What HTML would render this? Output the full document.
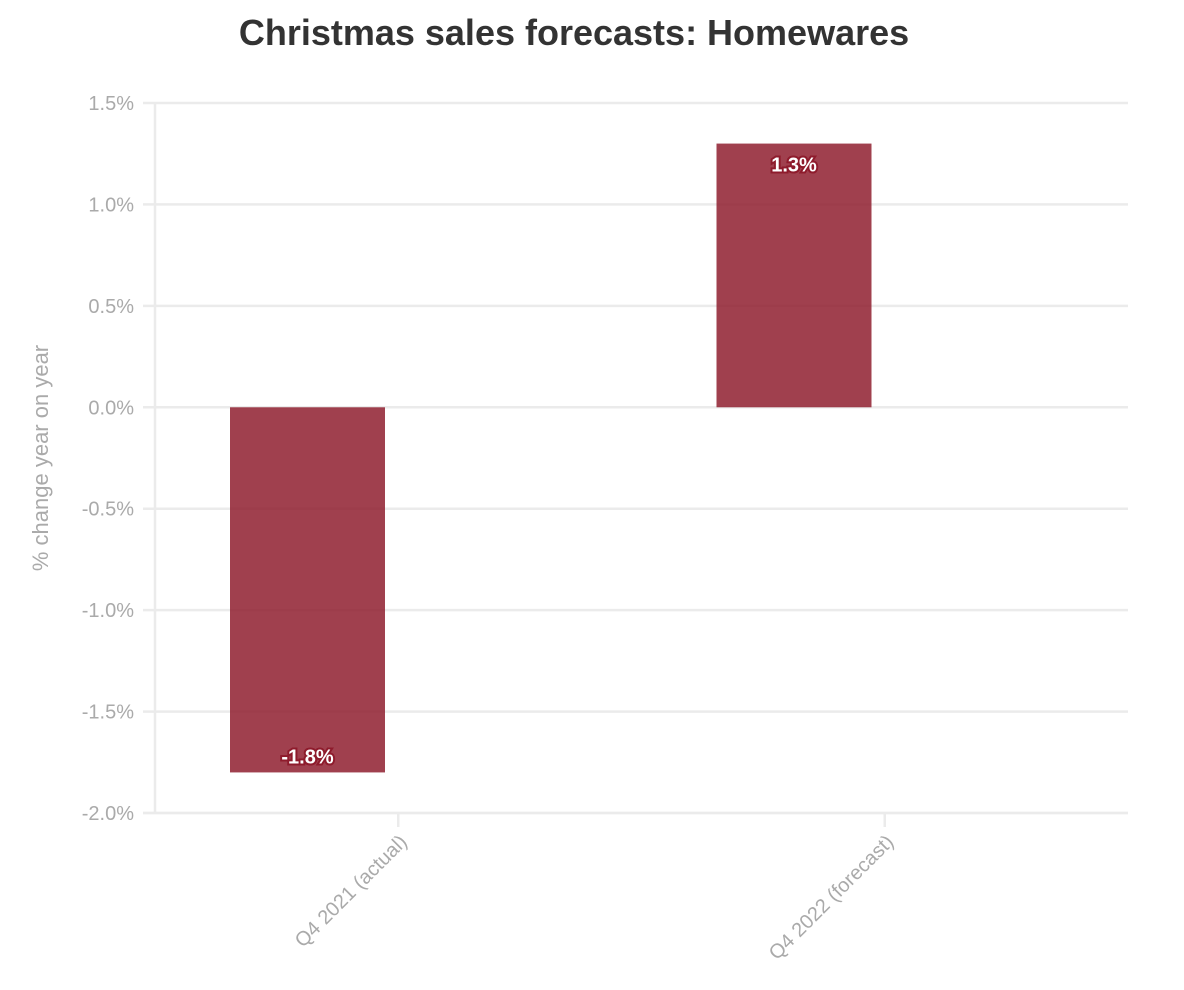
<!DOCTYPE html>
<html><head><meta charset="utf-8"><style>
html,body{margin:0;padding:0;background:#fff;}
svg{display:block;font-family:"Liberation Sans",sans-serif;}
</style></head><body>
<svg id="chart" width="1184" height="990" viewBox="0 0 1184 990">
<text x="574" y="45" text-anchor="middle" font-size="36" font-weight="bold" fill="#333">Christmas sales forecasts: Homewares</text>
<g id="grid"></g><g id="bars"></g><g id="xaxis"></g>
<text transform="translate(48,458) rotate(-90)" text-anchor="middle" font-size="22" fill="#aaa">% change year on year</text>
</svg>
<script>
const categories = ["Q4 2021 (actual)", "Q4 2022 (forecast)"];
const values = [-1.8, 1.3];
const valueLabels = ["-1.8%", "1.3%"];
const yTicks = [1.5, 1.0, 0.5, 0.0, -0.5, -1.0, -1.5, -2.0];
const tickLabels = ["1.5%", "1.0%", "0.5%", "0.0%", "-0.5%", "-1.0%", "-1.5%", "-2.0%"];

const NS = "http://www.w3.org/2000/svg";
const x0 = 155, x1 = 1128, yTop = 103, yBot = 813, vMax = 1.5, vMin = -2.0;
function y(v){ return yTop + (vMax - v) / (vMax - vMin) * (yBot - yTop); }
const band = (x1 - x0) / categories.length;
function xBand(i){ return x0 + i * band; }
function mk(tag, attrs, parent){ const e = document.createElementNS(NS, tag); for (const k in attrs) e.setAttribute(k, attrs[k]); parent.appendChild(e); return e; }

const grid = document.getElementById("grid");
yTicks.forEach((t, i) => {
  const l = mk("line", {x1: x0 - 12, x2: x1, y1: y(t), y2: y(t), stroke: "#ebebeb", "stroke-width": 2.5}, grid);
  
  
  const tx = mk("text", {x: 134, y: y(t) + 7, "text-anchor": "end", "font-size": 20, fill: "#aaa"}, grid);
  tx.textContent = tickLabels[i];
  
  
});
const ax = mk("line", {x1: x0, x2: x0, y1: yTop, y2: yBot, stroke: "#ebebeb", "stroke-width": 2.5}, grid);



const bars = document.getElementById("bars");
const xa = document.getElementById("xaxis");
values.forEach((v, i) => {
  const bx = xBand(i) + 75, bw = 155;
  const top = Math.min(y(v), y(0)), h = Math.abs(y(v) - y(0));
  const r = mk("rect", {x: bx, y: top, width: bw, height: h, fill: "#8e1b2c", "fill-opacity": 0.84}, bars);
  
  
  const ly = v >= 0 ? y(v) + 28 : y(v) - 9;
  const lb = mk("text", {x: bx + bw / 2, y: ly, "text-anchor": "middle", "font-size": 20, "font-weight": "bold", fill: "#fff", stroke: "#8e1b2c", "stroke-width": 4, "paint-order": "stroke"}, bars);
  lb.textContent = valueLabels[i];
  
  
  const cx = xBand(i) + band / 2;
  const tk = mk("line", {x1: cx, x2: cx, y1: yBot, y2: yBot + 14, stroke: "#ebebeb", "stroke-width": 2.5}, xa);
  
  
  const ct = mk("text", {transform: "translate(" + (cx + 10) + "," + (yBot + 30) + ") rotate(-45)", "text-anchor": "end", "font-size": 20, fill: "#aaa"}, xa);
  ct.textContent = categories[i];
  
  
});
const xl = mk("line", {x1: x0 - 12, x2: x1, y1: yBot, y2: yBot, stroke: "#ebebeb", "stroke-width": 2.5}, xa);


</script>
</body></html>
